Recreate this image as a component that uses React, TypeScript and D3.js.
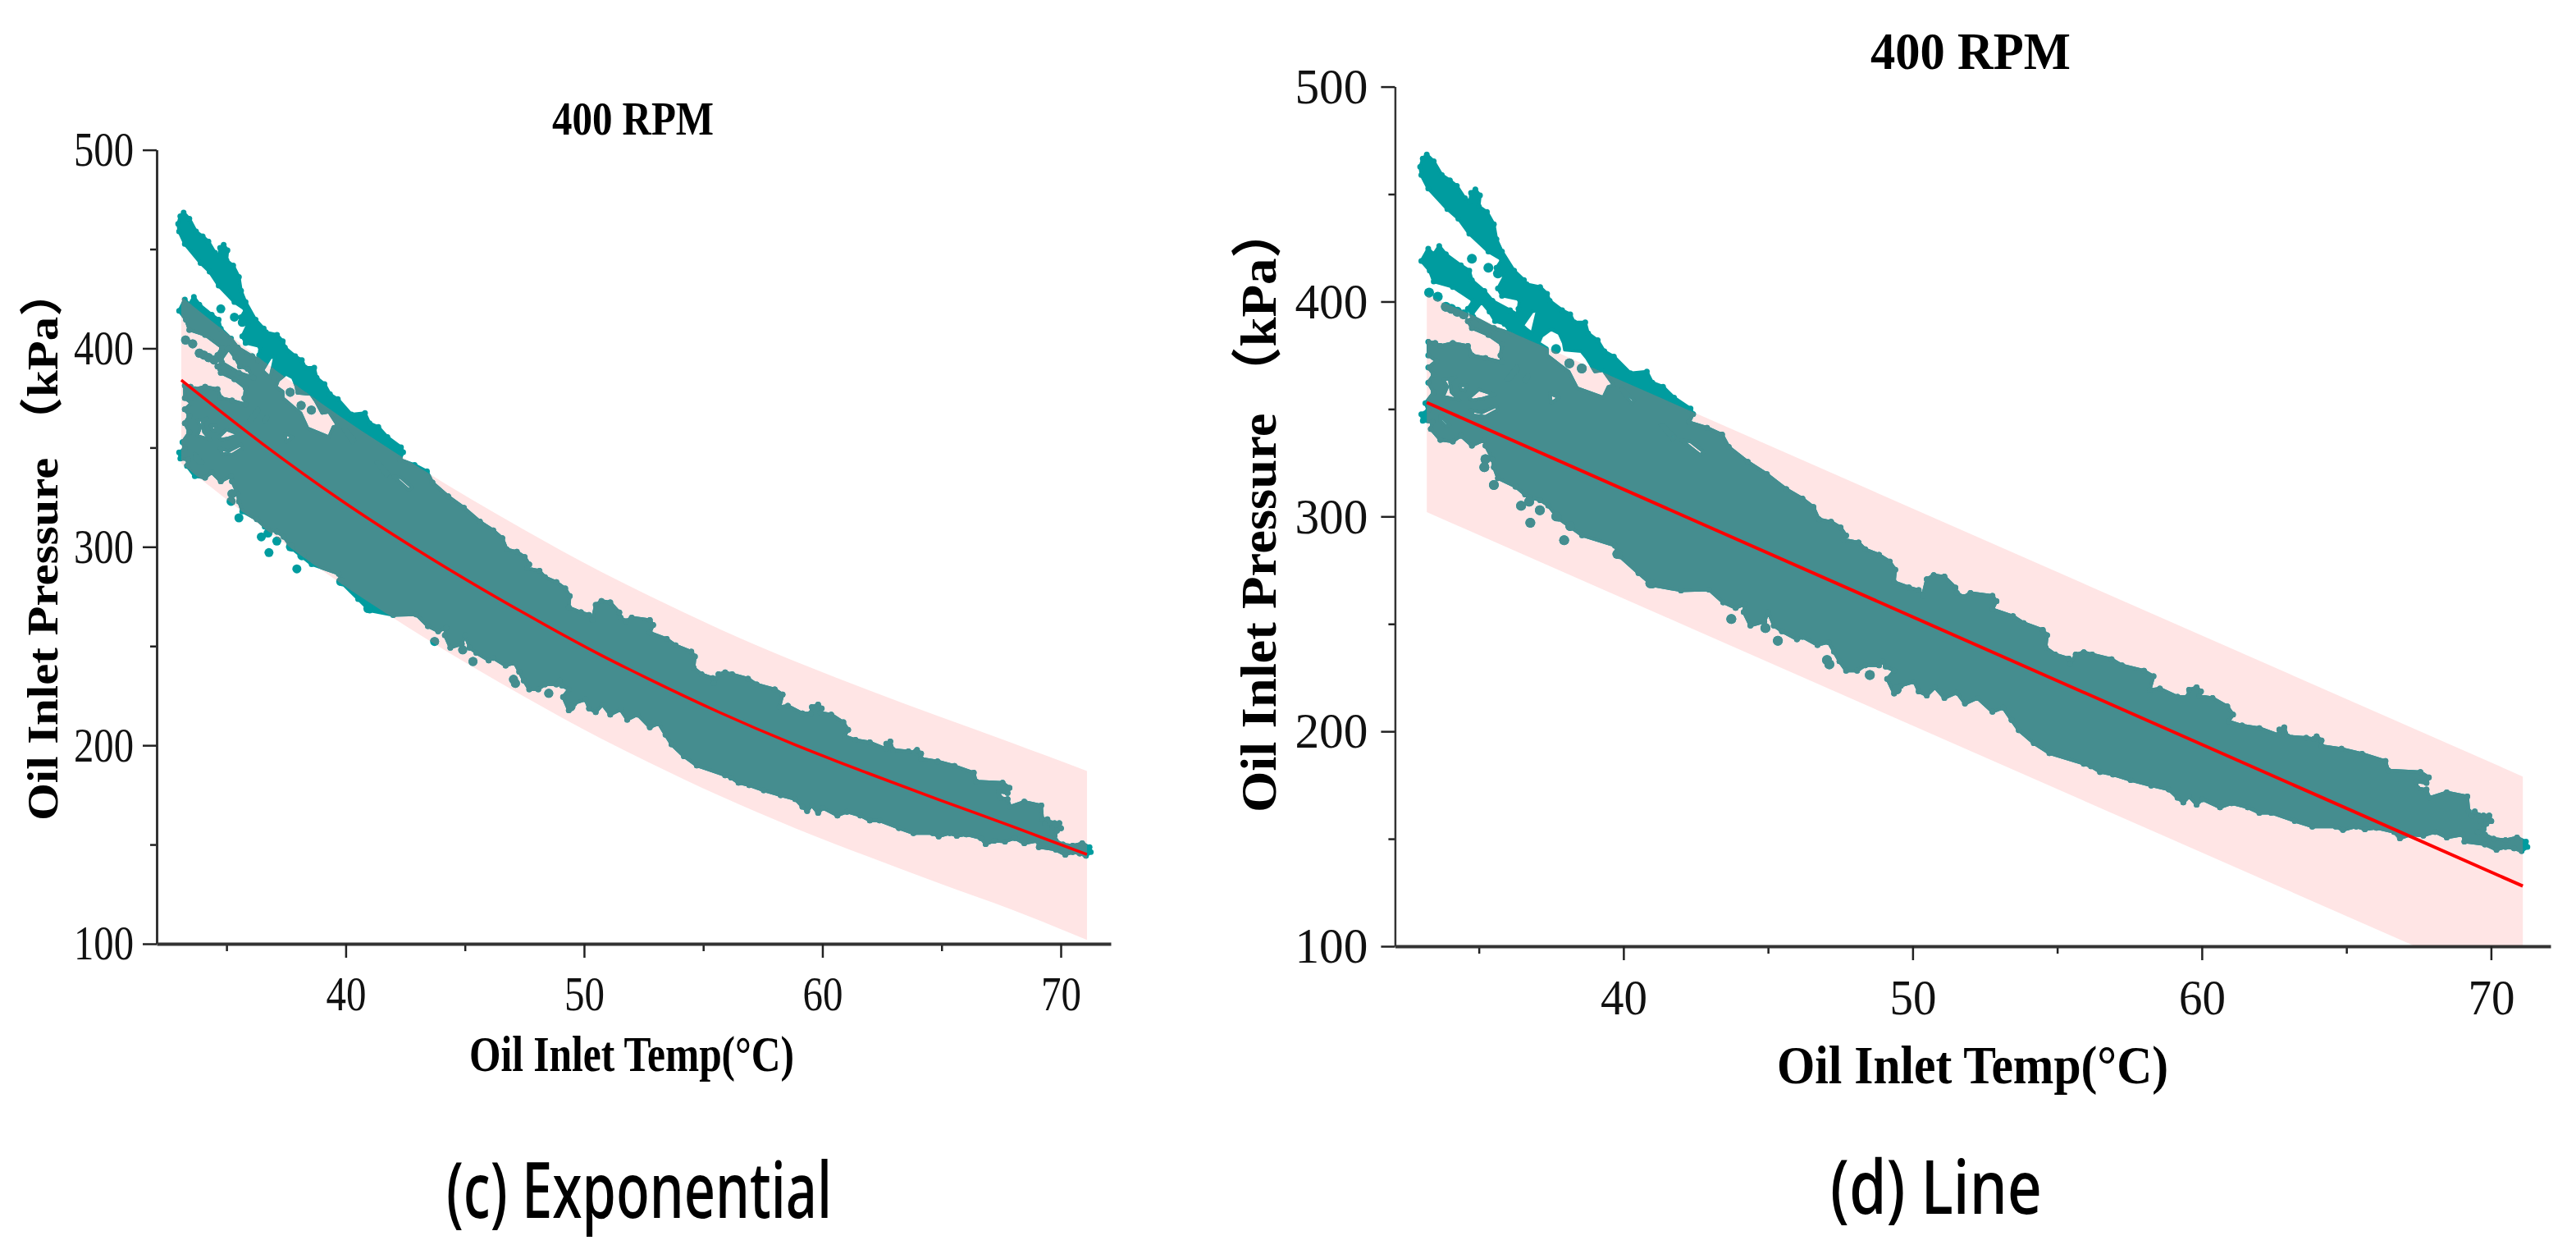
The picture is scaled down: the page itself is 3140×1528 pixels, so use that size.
import { useEffect, useRef } from "react";
import * as d3 from "d3";

type Pt = [number, number];

const majorTemp = [40, 50, 60, 70];
const minorTemp = [35, 45, 55, 65];
const majorPressure = [100, 200, 300, 400, 500];
const minorPressure = [150, 250, 350, 450];

const cloudOutline: Pt[] = [
  [33.06, 466.5], [33.2, 468.4], [33.44, 465.3], [33.72, 458.9], [34.0, 456.4], [34.24, 453.8], [34.52, 448.1],
  [34.69, 446.5], [34.73, 450.6], [34.88, 452.2], [35.04, 449.4], [35.0, 444.3], [35.28, 441.7], [35.52, 436.0],
  [35.61, 429.0], [35.8, 423.3], [36.22, 414.4], [36.56, 410.0], [36.65, 408.1], [37.12, 406.8], [37.36, 403.6],
  [37.45, 400.4], [37.88, 396.0], [38.16, 394.1], [38.3, 390.3], [38.68, 390.3], [38.78, 385.2], [39.11, 382.0],
  [39.34, 376.9], [39.67, 374.4], [40.24, 366.7], [40.81, 367.4], [41.0, 362.3], [41.37, 360.4], [41.75, 355.3],
  [42.32, 350.2], [42.41, 347.7], [42.27, 343.9], [42.89, 341.3], [43.41, 338.1], [43.64, 332.4], [44.3, 325.4],
  [44.96, 319.7], [45.63, 312.7], [46.19, 308.3], [46.57, 304.4], [46.76, 298.7], [47.18, 297.5], [47.51, 294.9],
  [47.7, 291.1], [47.61, 289.2], [48.13, 287.9], [48.36, 284.7], [48.84, 282.2], [49.21, 279.0], [49.4, 275.2],
  [49.36, 269.5], [49.87, 267.0], [50.21, 265.7], [50.35, 263.1], [50.49, 270.8], [50.73, 272.7], [51.1, 272.0],
  [51.48, 266.9], [51.53, 264.4], [51.76, 262.5], [52.0, 264.4], [52.76, 263.1], [52.9, 260.6], [52.76, 256.8],
  [53.47, 253.6], [53.84, 250.4], [54.5, 247.2], [54.65, 244.7], [54.6, 239.0], [54.93, 235.8], [55.4, 233.9],
  [55.45, 231.3], [55.64, 235.8], [55.92, 236.8], [56.21, 235.8], [56.88, 233.6], [57.24, 230.7], [58.0, 228.2],
  [58.33, 225.6], [58.2, 219.3], [58.55, 219.9], [59.16, 216.1], [59.51, 216.1], [59.56, 219.3], [59.82, 220.5],
  [59.97, 218.6], [59.92, 216.4], [60.37, 215.5], [60.88, 211.6], [61.08, 207.8], [60.93, 204.7], [61.39, 202.7],
  [61.99, 201.5], [62.65, 198.3], [62.68, 200.8], [62.85, 201.9], [62.96, 197.7], [63.61, 197.0], [63.87, 196.4],
  [63.97, 197.7], [64.14, 195.8], [64.14, 193.2], [64.83, 191.9], [65.54, 189.6], [66.35, 186.2], [66.45, 181.8],
  [67.56, 181.1], [67.85, 178.6], [67.77, 176.0], [67.41, 176.7], [67.46, 173.5], [67.77, 172.9], [67.87, 169.1],
  [68.47, 171.6], [69.18, 169.7], [69.23, 162.7], [69.33, 160.8], [69.44, 162.7], [69.59, 160.8], [69.64, 158.2],
  [69.74, 160.8], [69.94, 160.8], [70.01, 158.2], [69.84, 157.0], [69.74, 154.4], [69.54, 153.2], [69.79, 151.9],
  [70.09, 150.0], [70.5, 149.4], [70.9, 150.6], [71.21, 148.7], [71.26, 146.2], [71.06, 144.3], [70.8, 145.5],
  [70.5, 146.2], [70.19, 144.9], [69.79, 147.4], [69.08, 148.7], [69.03, 151.9], [68.47, 150.6], [68.07, 153.2],
  [67.66, 151.5], [67.21, 151.9], [66.85, 150.2], [66.65, 153.2], [66.04, 155.1], [65.64, 154.4], [65.34, 155.7],
  [64.88, 154.1], [64.63, 155.7], [63.82, 155.7], [63.21, 158.3], [62.4, 162.1], [61.99, 162.1], [61.59, 164.6],
  [61.03, 166.5], [60.63, 164.6], [60.02, 168.4], [59.82, 165.9], [59.56, 169.7], [59.36, 166.9], [59.16, 169.1],
  [58.86, 172.9], [58.25, 174.8], [57.54, 177.3], [56.93, 179.9], [56.48, 181.1], [56.17, 183.7], [55.92, 184.9],
  [54.73, 189.8], [54.19, 194.5], [53.67, 200.5], [53.42, 205.3], [53.13, 211.0], [52.76, 209.1], [52.24, 215.5],
  [51.81, 212.9], [51.53, 218.0], [51.1, 215.5], [50.77, 220.5], [50.49, 216.7], [50.21, 218.6], [50.06, 223.1],
  [49.59, 221.2], [49.36, 217.6], [49.12, 224.4], [49.36, 228.2], [49.07, 230.1], [48.98, 232.6], [48.84, 230.7],
  [48.36, 230.7], [48.08, 228.2], [47.7, 228.2], [47.47, 232.6], [47.28, 237.1], [47.09, 241.5], [46.71, 240.2],
  [46.19, 244.0], [46.0, 242.8], [45.48, 246.6], [45.2, 249.2], [45.01, 255.5], [44.87, 251.0], [44.39, 249.2],
  [44.16, 255.5], [44.21, 259.3], [43.88, 257.4], [43.45, 260.0], [42.96, 265.9], [41.99, 265.6], [41.01, 267.9],
  [40.52, 273.7], [39.87, 281.5], [39.71, 286.4], [38.57, 291.2], [37.76, 299.0], [37.4, 305.1], [37.12, 307.6],
  [36.74, 308.9], [36.6, 310.2], [36.27, 313.9], [35.66, 317.8], [35.52, 322.9], [35.47, 326.7], [35.23, 333.0],
  [35.19, 335.6], [34.76, 333.0], [34.38, 337.5], [34.1, 334.9], [33.67, 335.6], [33.34, 340.7], [33.39, 343.9],
  [33.06, 344.5], [33.01, 347.6], [33.25, 349.5], [33.15, 352.7], [33.44, 357.8], [33.25, 362.3], [33.44, 366.1],
  [33.25, 369.3], [33.53, 372.4], [33.25, 375.0], [33.25, 381.3], [33.49, 380.7], [33.67, 379.4], [34.1, 380.7],
  [34.62, 379.4], [34.76, 375.0], [35.23, 373.7], [35.8, 371.8], [35.75, 375.0], [35.8, 380.1], [35.33, 384.5],
  [34.76, 387.7], [34.62, 390.9], [34.81, 392.8], [35.52, 387.7], [36.13, 385.2], [35.89, 389.6], [35.56, 390.9],
  [35.37, 395.3], [35.09, 399.8], [34.76, 394.1], [34.62, 396.6], [34.81, 400.4], [34.1, 406.8], [33.44, 409.3],
  [33.3, 414.4], [33.01, 418.9], [33.25, 424.6], [33.44, 422.0], [33.63, 425.9], [33.86, 422.0], [34.38, 416.9],
  [34.67, 414.4], [34.76, 409.9], [35.19, 404.9], [35.47, 400.4], [36.08, 396.0], [36.32, 394.1], [36.37, 396.6],
  [36.41, 401.0], [35.8, 402.7], [35.66, 406.1], [35.89, 411.9], [35.8, 413.1], [35.61, 415.7], [35.8, 419.5],
  [35.33, 423.3], [34.67, 431.6], [34.29, 438.6], [33.91, 443.0], [33.25, 452.6], [33.01, 458.9], [32.97, 462.7],
];

const cloudGaps: Pt[][] = [
  [[36.51, 388.9], [36.84, 395.3], [37.03, 396.0], [36.84, 385.2], [36.65, 387.1]],
  [[37.17, 383.9], [37.5, 387.1], [37.78, 385.2], [37.93, 380.7], [37.97, 377.5], [38.54, 376.9], [38.73, 373.7],
    [39.01, 367.4], [39.3, 368.0], [39.67, 361.0], [39.48, 360.4], [39.3, 355.3], [38.4, 359.7], [38.11, 367.4],
    [37.78, 370.6], [37.36, 375.0], [37.36, 378.2], [37.07, 380.7]],
  [[34.67, 355.3], [35.0, 359.1], [35.56, 356.6], [35.09, 354.7], [34.76, 354.0]],
  [[34.71, 349.6], [35.09, 348.3], [35.61, 351.5], [35.66, 349.6], [35.23, 346.4], [34.81, 347.0]],
  [[33.77, 363.6], [34.19, 364.8], [34.0, 362.9], [34.05, 357.8], [34.33, 354.0], [33.77, 355.9], [33.91, 360.4]],
  [[34.33, 361.0], [34.57, 361.0], [34.52, 358.5], [34.38, 359.1]],
  [[33.67, 347.0], [34.0, 342.5], [33.86, 342.0], [33.67, 344.5]],
  [[41.28, 342.6], [41.38, 342.6], [41.8, 336.8], [41.7, 335.8]],
  [[41.99, 335.6], [42.32, 334.9], [42.79, 329.9], [42.65, 328.6]],
  [[39.91, 359.1], [40.0, 359.1], [40.38, 354.0], [40.29, 352.4]],
  [[35.94, 363.8], [36.32, 369.9], [36.37, 368.6], [36.08, 363.8]],
  [[36.56, 363.6], [36.7, 366.1], [36.74, 365.0], [36.62, 362.6]],
  [[37.45, 357.2], [37.78, 355.3], [37.5, 352.8]],
];

// single points standing clear of the cloud
const strayPoints: Pt[] = [
  [34.76, 419.9], [35.33, 415.7], [35.66, 413.1], [37.67, 377.9], [38.13, 371.2], [38.56, 368.9],
  [33.28, 404.2], [33.58, 402.3], [33.86, 397.6], [34.05, 396.6], [34.25, 395.3], [34.48, 394.1],
  [35.23, 326.7], [35.19, 322.9], [35.52, 314.6], [36.74, 306.9],
  [43.73, 252.3], [44.91, 248.1], [45.34, 242.2], [47.04, 233.2], [47.12, 231.2], [48.52, 226.2], [49.45, 219.5],
  [36.46, 305.0], [36.78, 297.1], [37.11, 302.9], [37.68, 300.0], [38.16, 295.5], [37.95, 288.9],
  [39.79, 282.5], [40.93, 268.9],
];

const expTemps = [33.1, 36.5, 39.8, 43, 47.5, 50.7, 52.7, 55.7, 58.8, 61.9, 64.9, 68, 71.1];
const expFit = [384, 352, 323.5, 298.5, 266.5, 245.5, 233.5, 216.5, 200.5, 186, 172.5, 159, 145];
const expUpper = [426, 394, 365.5, 340.5, 308.5, 287.5, 275.5, 258.5, 242.5, 228, 214.5, 201, 187];
const expLower = [342, 310, 281.5, 256.5, 224.5, 203.5, 191.5, 174.5, 158.5, 144, 130.5, 117, 102];

const lineTemps = [33.2, 71.1];
const lineFit = [353, 128];
const lineUpper = [403, 179];
const lineLower = [302, 78];

const TEAL = "#009c9f";
const DULL = "#458d8f";
const PINK = "#ffe5e5";
const SERIF = "'Liberation Serif', 'Noto Sans CJK SC', serif";

function Panel({ id, xr, yr, xd, temps, fit, upper, lower, curve, dotR, redW, t }: any) {
  const axisRef = useRef<SVGGElement>(null);

  const x = d3.scaleLinear().domain(xd).range(xr);
  const y = d3.scaleLinear().domain([100, 500]).range(yr);

  const line = d3.line<Pt>().x(d => x(d[0])).y(d => y(d[1]));
  const cloudPath = [cloudOutline, ...cloudGaps].map(r => line(r) + "Z").join("");

  const bandPath = d3.area<number>()
    .x(d => x(d))
    .y0((_, i) => y(lower[i]))
    .y1((_, i) => y(upper[i]))
    .curve(curve)(temps) as string;

  const fitPath = d3.line<number>()
    .x(d => x(d))
    .y((_, i) => y(fit[i]))
    .curve(curve)(temps) as string;

  useEffect(() => {
    const g = d3.select(axisRef.current);
    g.selectAll("*").remove();

    const yMinor = g.append("g").attr("transform", `translate(${xr[0]},0)`)
      .call(d3.axisLeft(y).tickValues(minorPressure).tickSize(8).tickSizeOuter(0).tickFormat(() => ""));
    const xMinor = g.append("g").attr("transform", `translate(0,${yr[0]})`)
      .call(d3.axisBottom(x).tickValues(minorTemp).tickSize(9).tickSizeOuter(0).tickFormat(() => ""));
    const yMajor = g.append("g").attr("transform", `translate(${xr[0]},0)`)
      .call(d3.axisLeft(y).tickValues(majorPressure).tickSize(17).tickSizeOuter(0).tickPadding(t.yPad));
    const xMajor = g.append("g").attr("transform", `translate(0,${yr[0]})`)
      .call(d3.axisBottom(x).tickValues(majorTemp).tickSize(17).tickSizeOuter(0).tickPadding(t.xPad));

    [yMinor, xMinor, yMajor, xMajor].forEach(a => {
      a.selectAll("line").attr("stroke", "#222").attr("stroke-width", 2.5);
      a.select(".domain").attr("stroke", "#333").attr("stroke-width", 0);
      a.selectAll("text")
        .attr("fill", "#111")
        .attr("font-family", SERIF)
        .attr("font-size", t.tickFont)
        .attr("lengthAdjust", "spacingAndGlyphs");
    });
    yMajor.select(".domain").attr("stroke-width", t.yAxisW);
    xMajor.select(".domain").attr("stroke-width", 4);
    yMajor.selectAll("text").attr("textLength", t.yTickLen);
    xMajor.selectAll("text").attr("textLength", t.xTickLen);
  }, []);

  const clouds = [
    { fill: TEAL, clip: `url(#plot-${id})` },
    { fill: DULL, clip: `url(#band-${id})` },
  ];

  return (
    <g>
      <defs>
        <clipPath id={`plot-${id}`}>
          <rect x={xr[0]} y={yr[1]} width={xr[1] - xr[0]} height={yr[0] - yr[1] - 1} />
        </clipPath>
        <clipPath id={`band-${id}`} clipPathUnits="userSpaceOnUse">
          <path d={bandPath} />
        </clipPath>
      </defs>

      <path d={bandPath} fill={PINK} clipPath={`url(#plot-${id})`} />

      {clouds.map(c => (
        <g key={c.fill} clipPath={c.clip} fill={c.fill}>
          <path d={cloudPath} fillRule="evenodd" stroke={c.fill} strokeWidth={4} strokeLinejoin="round" />
          {cloudOutline.map((p, i) => <circle key={i} cx={x(p[0])} cy={y(p[1])} r={3.5} />)}
          {strayPoints.map((p, i) => <circle key={i} cx={x(p[0])} cy={y(p[1])} r={dotR} />)}
        </g>
      ))}

      <path d={fitPath} fill="none" stroke="#ff0000" strokeWidth={redW} />
      <g ref={axisRef} />

      <g fontFamily={SERIF} fontWeight="bold" fill="#000">
        <text x={t.titleX} y={t.titleY} fontSize={t.titleFont} textLength={t.titleLen} lengthAdjust="spacingAndGlyphs">400 RPM</text>
        <text x={t.xLabelX} y={t.xLabelY} fontSize={t.labelFont} textLength={t.xLabelLen} lengthAdjust="spacingAndGlyphs">Oil Inlet Temp(°C)</text>
        <text
          transform={`translate(${t.yLabelX},${t.yLabelY}) rotate(-90)`}
          fontSize={t.yLabelFont}
          textLength={t.yLabelLen}
          lengthAdjust="spacingAndGlyphs"
        >
          Oil Inlet Pressure （kPa）
        </text>
      </g>
      <text
        x={t.capX}
        y={t.capY}
        fontFamily="'Noto Sans', sans-serif"
        fontWeight={500}
        fontSize={t.capFont}
        fill="#000"
        textLength={t.capLen}
        lengthAdjust="spacingAndGlyphs"
      >
        {t.caption}
      </text>
    </g>
  );
}

export default function App() {
  return (
    <svg
      width={3140}
      height={1528}
      viewBox="0 0 3140 1528"
      style={{ position: "absolute", left: 0, top: 0, background: "#fff", display: "block" }}
    >
      <Panel
        id="exp"
        xd={[32.07, 72.1]}
        xr={[191, 1354]}
        yr={[1150, 182.6]}
        temps={expTemps}
        fit={expFit}
        upper={expUpper}
        lower={expLower}
        curve={d3.curveMonotoneX}
        dotR={5.5}
        redW={3.5}
        t={{
          yPad: 11, xPad: 22, tickFont: 59, yTickLen: 73, xTickLen: 49, yAxisW: 3,
          titleX: 673, titleY: 164, titleFont: 56, titleLen: 197,
          xLabelX: 572, xLabelY: 1305, labelFont: 61, xLabelLen: 396,
          yLabelX: 70, yLabelY: 1000, yLabelFont: 53, yLabelLen: 673,
          capX: 544, capY: 1484, capFont: 94, capLen: 470, caption: "(c) Exponential",
        }}
      />
      <Panel
        id="line"
        xd={[32.1, 72.06]}
        xr={[1700.4, 3109]}
        yr={[1153, 105.6]}
        temps={lineTemps}
        fit={lineFit}
        upper={lineUpper}
        lower={lineLower}
        curve={d3.curveLinear}
        dotR={6}
        redW={4}
        t={{
          yPad: 16, xPad: 22, tickFont: 62, yTickLen: 89, xTickLen: 57, yAxisW: 2.5,
          titleX: 2280, titleY: 84, titleFont: 64, titleLen: 244,
          xLabelX: 2166, xLabelY: 1320, labelFont: 66, xLabelLen: 477,
          yLabelX: 1555, yLabelY: 990, yLabelFont: 62, yLabelLen: 740,
          capX: 2231, capY: 1479, capFont: 90, capLen: 258, caption: "(d) Line",
        }}
      />
    </svg>
  );
}
